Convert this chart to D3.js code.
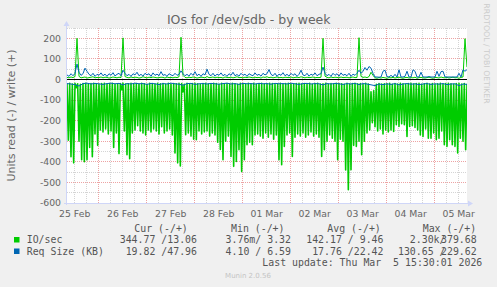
<!DOCTYPE html>
<html>
<head>
<meta charset="utf-8">
<script src="https://cdn.jsdelivr.net/npm/d3@7"></script>
<style>
  html, body { margin: 0; padding: 0; background: #f0f0f0; }
  svg { display: block; }
  text { white-space: pre; }
</style>
</head>
<body>
<div id="chart"></div>
<script>
// Time window shown by the graph (UTC). The graph is 400px wide, 30 minutes per pixel.
const startTime = new Date(Date.UTC(2026, 1, 25, 8, 10));
const endTime = new Date(Date.UTC(2026, 2, 5, 16, 10));

const xTickLabels = ["25 Feb", "26 Feb", "27 Feb", "28 Feb", "01 Mar", "02 Mar", "03 Mar", "04 Mar", "05 Mar"];
const yTicks = [200, 100, 0, -100, -200, -300, -400, -500, -600];

// IO/sec, read side (drawn negative), one sample every 40 minutes
const ioRead = [
  -20,-295, -18,-375, -22,-405, -19,-40, -21,-300, -23,-390, -20,-400, -18,-390, -22,-330, -20,-375,
  -19,-265, -21,-320, -24,-245, -20,-255, -18,-240, -22,-265, -20,-250, -19,-330, -23,-260, -21,-360,
  -20,-50, -18,-250, -22,-365, -21,-385, -19,-260, -24,-245, -20,-225, -22,-250, -18,-260, -21,-270,
  -23,-245, -19,-255, -20,-240, -22,-250, -18,-265, -21,-230, -20,-260, -24,-250, -19,-240, -22,-270,
  -20,-357, -21,-405, -18,-420, -20,-60, -23,-268, -19,-260, -22,-275, -20,-290, -18,-293, -21,-250,
  -24,-265, -20,-255, -19,-250, -22,-275, -21,-260, -18,-270, -20,-305, -23,-340, -19,-390, -21,-300,
  -20,-275, -22,-374, -18,-422, -21,-398, -24,-341, -19,-447, -20,-390, -22,-317, -18,-305, -21,-317,
  -19,-270, -23,-265, -20,-275, -18,-285, -22,-260, -21,-280, -19,-265, -20,-290, -24,-270, -21,-390,
  -18,-414, -22,-325, -20,-270, -19,-260, -21,-374, -23,-280, -20,-265, -18,-275, -22,-260, -20,-280,
  -21,-270, -19,-255, -24,-275, -20,-265, -18,-280, -22,-374, -21,-341, -19,-300, -23,-270, -20,-285,
  -22,-300, -18,-390, -20,-290, -21,-300, -24,-440, -19,-535, -22,-438, -20,-320, -18,-325, -21,-300,
  -20,-365, -23,-300, -19,-260, -22,-245, -60,-210, -55,-230, -24,-250, -20,-240, -22,-265, -21,-245,
  -21,-255, -19,-245, -23,-252, -20,-220, -22,-228, -18,-215, -21,-220, -24,-277, -20,-228, -19,-225,
  -22,-233, -20,-245, -18,-270, -23,-277, -21,-240, -19,-285, -22,-285, -20,-260, -24,-293, -21,-285,
  -19,-250, -22,-317, -20,-325, -18,-293, -21,-317, -23,-325, -20,-357, -19,-285, -22,-300, -20,-341,
  -21
];

// IO/sec, write side, one sample per hour
const ioWrite = [
  10, 8, 12, 9, 14, 200, 15, 8, 10, 12,
  7, 9, 11, 13, 8, 10, 9, 12, 8, 11,
  10, 7, 9, 12, 10, 8, 11, 9, 202, 14,
  10, 8, 12, 9, 11, 10, 7, 9, 13, 10,
  8, 11, 9, 12, 10, 8, 9, 11, 10, 7,
  12, 9, 10, 8, 11, 9, 13, 205, 20, 10,
  8, 11, 9, 12, 10, 7, 9, 11, 10, 8,
  14, 9, 10, 12, 8, 11, 9, 10, 7, 12,
  10, 9, 11, 8, 10, 13, 9, 10, 8, 11,
  9, 12, 10, 8, 11, 9, 10, 7, 12, 10,
  13, 9, 11, 8, 10, 12, 9, 10, 8, 11,
  10, 9, 12, 8, 10, 11, 9, 13, 10, 8,
  11, 9, 10, 12, 8, 10, 9, 11, 200, 16,
  10, 8, 12, 9, 11, 10, 8, 12, 9, 10,
  11, 8, 10, 12, 9, 10, 203, 15, 10, 12,
  9, 14, 35, 20, 8, 6, 9, 7, 10, 8,
  6, 9, 8, 10, 7, 9, 11, 8, 6, 9,
  10, 7, 9, 8, 11, 6, 9, 10, 8, 7,
  9, 11, 8, 6, 10, 9, 7, 12, 9, 8,
  10, 7, 9, 11, 8, 9, 6, 10, 12, 198,
  60
];

// Req Size (KB), read side (drawn negative), one sample every 2 hours
const reqRead = [
  -20, -22, -25, -32, -20, -18, -22, -19, -21, -24,
  -20, -18, -21, -19, -26, -20, -22, -18, -21, -20,
  -24, -19, -21, -25, -20, -22, -18, -21, -23, -28,
  -20, -19, -24, -21, -20, -22, -19, -21, -23, -20,
  -18, -22, -20, -24, -19, -21, -20, -22, -19, -21,
  -20, -23, -19, -21, -20, -22, -18, -21, -24, -20,
  -19, -22, -20, -21, -26, -20, -22, -19, -21, -24,
  -20, -22, -19, -25, -20, -22, -26, -30, -22, -25,
  -21, -24, -20, -26, -22, -20, -23, -21, -25, -22,
  -20, -24, -21, -23, -20, -25, -22, -21, -30, -22,
  -24
];

// Req Size (KB), write side, one sample per hour
const reqWrite = [
  22, 15, 28, 18, 30, 75, 35, 20, 28, 55,
  40, 25, 18, 30, 15, 25, 20, 32, 18, 26,
  15, 28, 20, 33, 17, 25, 30, 18, 45, 30,
  18, 25, 15, 28, 22, 35, 18, 25, 16, 30,
  22, 28, 15, 32, 20, 26, 18, 38, 20, 24,
  15, 28, 22, 18, 30, 20, 25, 42, 28, 18,
  25, 16, 30, 20, 38, 18, 26, 15, 28, 22,
  50, 25, 18, 30, 16, 26, 20, 32, 18, 25,
  15, 28, 20, 35, 18, 24, 16, 30, 20, 26,
  15, 28, 22, 18, 32, 20, 25, 16, 30, 22,
  28, 48, 25, 18, 30, 15, 26, 20, 33, 18,
  25, 16, 30, 20, 28, 15, 25, 45, 22, 18,
  30, 16, 26, 20, 32, 18, 25, 28, 60, 30,
  18, 25, 15, 30, 20, 28, 16, 32, 20, 25,
  18, 30, 15, 26, 20, 30, 45, 30, 40, 58,
  45, 63, 55, 30, 12, 12, 11, 12, 40, 45,
  14, 12, 20, 12, 25, 12, 47, 12, 12, 15,
  40, 12, 12, 47, 40, 12, 12, 35, 12, 12,
  12, 14, 12, 12, 12, 40, 15, 38, 40, 12,
  12, 12, 12, 12, 12, 12, 30, 12, 47, 40,
  48
];

const legendNames = ["IO/sec", "Req Size (KB)"];
const legendColors = ["#00cc00", "#0066b3"];
const legendHeaders = ["Cur (-/+)", "Min (-/+)", "Avg (-/+)", "Max (-/+)"];
const curValues = ["344.77 /13.06", "19.82 /47.96"];
const minValues = ["3.76m/ 3.32", "4.10 / 6.59"];
const avgValues = ["142.17 / 9.46", "17.76 /22.42"];
const maxReadValues = ["  2.30k/", "130.65 /"];
const maxWriteValues = ["379.68", "229.62"];
const lastUpdate = "Last update: Thu Mar  5 15:30:01 2026";

// Layout of the rrdtool canvas
const W = 497, H = 287;
const plot = { left: 67, right: 467, top: 28, bottom: 203 };
const textColor = '#666666';
const axisColor = '#cfd6f8';

const svg = d3.select('#chart').append('svg')
    .attr('width', W)
    .attr('height', H)
    .style('background', '#f0f0f0');

const x = d3.scaleUtc().domain([startTime, endTime]).range([plot.left, plot.right]);
const y = d3.scaleLinear().domain([-600, 250]).range([plot.bottom, plot.top]);

// snap 1px lines onto pixel centres
const snap = v => Math.floor(v) + 0.5;

// Spread a series evenly over the time window.
function toPoints(values) {
    const step = (endTime - startTime) / (values.length - 1);
    return values.map((v, i) => ({ t: new Date(+startTime + i * step), v }));
}

// Plot canvas
svg.append('rect')
    .attr('x', plot.left)
    .attr('y', plot.top)
    .attr('width', plot.right - plot.left)
    .attr('height', plot.bottom - plot.top)
    .attr('fill', '#ffffff');

// Grid: minor lines first, then the red major lines.
const grid = svg.append('g').attr('stroke-width', 1).attr('stroke-dasharray', '1,1');

const minorY = d3.range(-550, 251, 100);
grid.selectAll('.minor-y')
    .data(minorY)
    .enter()
    .append('line')
    .attr('x1', plot.left).attr('x2', plot.right)
    .attr('y1', d => snap(y(d))).attr('y2', d => snap(y(d)))
    .attr('stroke', '#d4d4d4');

const sixHours = d3.utcHour.every(6).range(startTime, endTime).filter(d => d.getUTCHours() !== 0);
grid.selectAll('.minor-x')
    .data(sixHours)
    .enter()
    .append('line')
    .attr('x1', d => snap(x(d))).attr('x2', d => snap(x(d)))
    .attr('y1', plot.top).attr('y2', plot.bottom)
    .attr('stroke', '#d4d4d4');

grid.selectAll('.major-y')
    .data(yTicks.filter(d => d > -600))
    .enter()
    .append('line')
    .attr('x1', plot.left).attr('x2', plot.right)
    .attr('y1', d => snap(y(d))).attr('y2', d => snap(y(d)))
    .attr('stroke', '#eda3a3');

const midnights = d3.utcDay.range(startTime, endTime);
grid.selectAll('.major-x')
    .data(midnights)
    .enter()
    .append('line')
    .attr('x1', d => snap(x(d))).attr('x2', d => snap(x(d)))
    .attr('y1', plot.top).attr('y2', plot.bottom)
    .attr('stroke', '#eda3a3');

// Data lines, clipped to the canvas
svg.append('clipPath').attr('id', 'plot-clip')
    .append('rect')
    .attr('x', plot.left).attr('y', plot.top)
    .attr('width', plot.right - plot.left).attr('height', plot.bottom - plot.top);

const line = d3.line().x(d => x(d.t)).y(d => y(d.v));
const series = [
    { values: ioRead, color: legendColors[0], width: 1.6 },
    { values: ioWrite, color: legendColors[0], width: 1 },
    { values: reqRead, color: legendColors[1], width: 1 },
    { values: reqWrite, color: legendColors[1], width: 1 }
];

svg.append('g')
    .attr('clip-path', 'url(#plot-clip)')
    .selectAll('path')
    .data(series)
    .enter()
    .append('path')
    .attr('d', d => line(toPoints(d.values)))
    .attr('fill', 'none')
    .attr('stroke', d => d.color)
    .attr('stroke-width', d => d.width)
    .attr('stroke-linejoin', 'round');

// Black rule at zero
svg.append('line')
    .attr('x1', plot.left).attr('x2', plot.right)
    .attr('y1', snap(y(0))).attr('y2', snap(y(0)))
    .attr('stroke', '#000000')
    .attr('stroke-width', 1);

// Axes with their arrows
svg.append('line')
    .attr('x1', plot.left - 0.5).attr('x2', plot.left - 0.5)
    .attr('y1', plot.bottom + 2).attr('y2', plot.top - 5)
    .attr('stroke', axisColor);
svg.append('line')
    .attr('x1', plot.left - 3).attr('x2', plot.right + 3)
    .attr('y1', plot.bottom + 0.5).attr('y2', plot.bottom + 0.5)
    .attr('stroke', axisColor);
svg.append('path')
    .attr('d', `M${plot.left - 3.5},${plot.top - 2} L${plot.left + 2.5},${plot.top - 2} L${plot.left - 0.5},${plot.top - 7} Z`)
    .attr('fill', axisColor);
svg.append('path')
    .attr('d', `M${plot.right + 1},${plot.bottom - 2.5} L${plot.right + 1},${plot.bottom + 3.5} L${plot.right + 6},${plot.bottom + 0.5} Z`)
    .attr('fill', axisColor);

// Y tick labels
svg.append('g')
    .selectAll('text')
    .data(yTicks)
    .enter()
    .append('text')
    .attr('x', 61)
    .attr('y', d => y(d) + 3.3)
    .attr('text-anchor', 'end')
    .attr('font-family', 'DejaVu Sans')
    .attr('font-size', 9.3)
    .attr('fill', textColor)
    .text(d => d);

// X tick labels, centred on noon of each day
svg.append('g')
    .selectAll('text')
    .data(xTickLabels)
    .enter()
    .append('text')
    .attr('x', (d, i) => x(d3.utcHour.offset(midnights[0], -12 + 24 * i)))
    .attr('y', 216.5)
    .attr('text-anchor', 'middle')
    .attr('font-family', 'DejaVu Sans')
    .attr('font-size', 9.3)
    .attr('fill', textColor)
    .text(d => d);

// Title
svg.append('text')
    .attr('x', 248.7)
    .attr('y', 24.3)
    .attr('text-anchor', 'middle')
    .attr('font-family', 'DejaVu Sans')
    .attr('font-size', 12.5)
    .attr('fill', textColor)
    .text('IOs for /dev/sdb - by week');

// Vertical unit label
svg.append('text')
    .attr('transform', 'translate(14.5,115.5) rotate(-90)')
    .attr('text-anchor', 'middle')
    .attr('font-family', 'DejaVu Sans')
    .attr('font-size', 11)
    .attr('fill', textColor)
    .text('Units read (-) / write (+)');

// rrdtool watermark on the right
svg.append('text')
    .attr('transform', 'translate(484,53.5) rotate(90)')
    .attr('text-anchor', 'middle')
    .attr('font-family', 'DejaVu Sans')
    .attr('font-size', 7.8)
    .attr('fill', '#cccccc')
    .text('RRDTOOL / TOBI OETIKER');

// Legend
const legend = svg.append('g')
    .attr('font-family', 'DejaVu Sans Mono')
    .attr('font-size', 9.9)
    .attr('fill', '#555555');

const headerX = [134.3, 231, 327.3, 422.7];
legend.selectAll('.header')
    .data(legendHeaders)
    .enter()
    .append('text')
    .attr('x', (d, i) => headerX[i])
    .attr('y', 231.5)
    .text(d => d);

const rowY = [243, 254.5];
legend.selectAll('.swatch')
    .data(legendColors)
    .enter()
    .append('rect')
    .attr('x', 14)
    .attr('y', (d, i) => rowY[i] - 6)
    .attr('width', 5.5)
    .attr('height', 5.5)
    .attr('fill', d => d);

function legendColumn(values, xPos, anchor) {
    legend.append('g')
        .selectAll('text')
        .data(values)
        .enter()
        .append('text')
        .attr('x', xPos)
        .attr('y', (d, i) => rowY[i])
        .attr('text-anchor', anchor)
        .text(d => d);
}

legendColumn(legendNames, 26.7, 'start');
legendColumn(curValues, 197, 'end');
legendColumn(minValues, 291, 'end');
legendColumn(avgValues, 383.5, 'end');
legendColumn(maxReadValues, 445.5, 'end');
legendColumn(maxWriteValues, 476.7, 'end');

legend.append('text')
    .attr('x', 482.3)
    .attr('y', 266)
    .attr('text-anchor', 'end')
    .text(lastUpdate);

svg.append('text')
    .attr('x', 248)
    .attr('y', 278)
    .attr('text-anchor', 'middle')
    .attr('font-family', 'DejaVu Sans')
    .attr('font-size', 7)
    .attr('fill', '#c4c4c4')
    .text('Munin 2.0.56');
</script>
</body>
</html>
